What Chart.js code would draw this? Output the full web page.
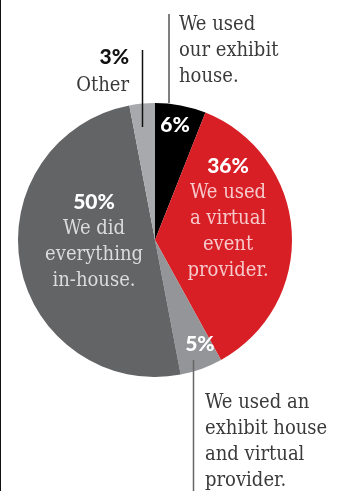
<!DOCTYPE html>
<html>
<head>
<meta charset="utf-8">
<script src="https://cdn.jsdelivr.net/npm/chart.js@4"></script>
<style>
  html, body { margin: 0; padding: 0; background: #fff; }
  #wrap { position: relative; width: 340px; height: 491px; box-sizing: border-box; border-left: 1.5px solid #111; }
  #wrap canvas { position: absolute; left: 0; top: 0; }
</style>
</head>
<body>
<div id="wrap"><canvas id="pie" width="340" height="491"></canvas></div>
<script>
// survey answers, clockwise from 12 o'clock
const categories = ['exhibit house', 'virtual provider', 'both', 'in-house', 'other'];
const shares = [6, 36, 5, 50, 3];
const pctLabels = ['6%', '36%', '5%', '50%', '3%'];
const captions = [
  ['We used', 'our exhibit', 'house.'],
  ['We used', 'a virtual', 'event', 'provider.'],
  ['We used an', 'exhibit house', 'and virtual', 'provider.'],
  ['We did', 'everything', 'in-house.'],
  ['Other']
];
const colors = ['#000000', '#d91f26', '#939598', '#636466', '#a7a9ac'];

const SERIF = "20px 'DejaVu Serif Condensed', 'DejaVu Serif', serif";
const BOLD = "900 21px Lato, 'Noto Sans', sans-serif";
const LH = 26;

// where each caption sits, as offsets from the pie centre (in radii)
const inside = {
  0: { dx: 0.146, dy: -0.788, pct: '#fff', text: null },
  1: { dx: 0.533, dy: -0.489, pct: '#fff', text: '#f6c9cb' },
  2: { dx: 0.328, dy: 0.810, pct: '#fff', text: null },
  3: { dx: -0.445, dy: -0.226, pct: '#fff', text: '#dcdcdd' }
};

function vline(ctx, x, y1, y2, color) {
  ctx.save();
  ctx.strokeStyle = color;
  ctx.lineWidth = 1.5;
  ctx.beginPath();
  ctx.moveTo(x, y1);
  ctx.lineTo(x, y2);
  ctx.stroke();
  ctx.restore();
}

const labelPlugin = {
  id: 'pieLabels',
  afterDatasetsDraw(chart) {
    const ctx = chart.ctx;
    const arc = chart.getDatasetMeta(0).data[0];
    const cx = arc.x, cy = arc.y, R = arc.outerRadius;
    ctx.save();
    ctx.textBaseline = 'alphabetic';

    // percentages (and captions) inside the slices
    Object.keys(inside).forEach(k => {
      const i = +k, s = inside[k];
      const x = cx + s.dx * R, y = cy + s.dy * R;
      ctx.textAlign = 'center';
      ctx.font = BOLD;
      ctx.fillStyle = s.pct;
      ctx.fillText(pctLabels[i], x, y);
      if (s.text) {
        ctx.font = SERIF;
        ctx.fillStyle = s.text;
        captions[i].forEach((t, j) => ctx.fillText(t, x, y + LH * (j + 1) - 1));
      }
    });

    // callout for the exhibit house slice
    vline(ctx, cx + 14, cy - 226, cy - R, '#555');
    ctx.textAlign = 'left';
    ctx.font = SERIF;
    ctx.fillStyle = '#3a3a3a';
    captions[0].forEach((t, j) => ctx.fillText(t, cx + 24, cy - 210 + LH * j));

    // callout for "other"
    vline(ctx, cx - 12.5, cy - 190, cy - 113, '#111');
    ctx.textAlign = 'right';
    ctx.font = BOLD;
    ctx.fillStyle = '#111';
    ctx.fillText(pctLabels[4], cx - 26, cy - 176);
    ctx.font = SERIF;
    ctx.fillStyle = '#3a3a3a';
    ctx.fillText(captions[4][0], cx - 26, cy - 149);

    // callout for the combined slice
    vline(ctx, cx + 38.5, cy + 120, cy + 260, '#666');
    ctx.textAlign = 'left';
    ctx.fillStyle = '#3a3a3a';
    captions[2].forEach((t, j) => ctx.fillText(t, cx + 50, cy + 168 + LH * j));

    ctx.restore();
  }
};

new Chart(document.getElementById('pie'), {
  type: 'pie',
  data: {
    labels: categories,
    datasets: [{
      data: shares,
      backgroundColor: colors,
      borderWidth: 0
    }]
  },
  options: {
    responsive: false,
    animation: false,
    layout: { padding: { left: 17, right: 49, top: 103, bottom: 114 } },
    plugins: {
      legend: { display: false },
      tooltip: { enabled: false }
    }
  },
  plugins: [labelPlugin]
});
</script>
</body>
</html>
